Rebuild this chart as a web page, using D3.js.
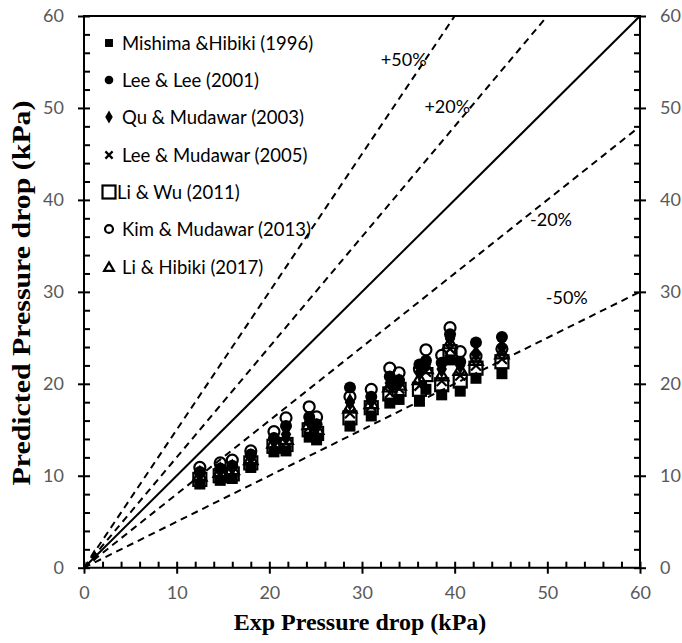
<!DOCTYPE html>
<html>
<head>
<meta charset="utf-8">
<script src="https://cdn.jsdelivr.net/npm/d3@7"></script>
<style>
  body { margin: 0; background: #fff; }
  svg { display: block; }
</style>
</head>
<body>
<svg id="chart" width="682" height="643"></svg>
<script>
// Experimental pressure drop (kPa) at each measured condition
const expDrop = [12.5, 14.7, 16.0, 18.0, 20.5, 21.8, 24.3, 25.1, 28.7, 31.0, 33.0, 34.0, 36.2, 36.9, 38.6, 39.5, 40.6, 42.3, 45.1];

// Predicted pressure drop (kPa) for each correlation
const mishimaHibiki = [9.1, 9.5, 9.7, 10.9, 12.6, 12.7, 14.2, 13.9, 15.4, 16.5, 17.9, 18.3, 18.1, 19.4, 18.8, 22.6, 19.2, 20.6, 21.1];
const leeLee        = [10.4, 10.8, 11.1, 12.3, 14.1, 15.4, 16.4, 15.6, 19.6, 18.6, 20.8, 20.4, 22.1, 22.5, 22.3, 25.4, 22.4, 24.5, 25.1];
const quMudawar     = [10.2, 10.6, 10.9, 12.0, 13.8, 14.5, 15.9, 15.3, 18.0, 18.2, 20.1, 20.2, 21.2, 22.1, 21.6, 24.9, 22.0, 23.3, 24.0];
const leeMudawar    = [9.8, 10.1, 10.4, 11.6, 13.4, 13.6, 15.3, 14.8, 16.8, 17.6, 19.0, 19.5, 19.8, 21.3, 20.3, 23.8, 20.9, 22.0, 22.7];
const liWu          = [9.6, 10.0, 10.2, 11.4, 13.2, 13.4, 15.0, 14.6, 16.3, 17.4, 18.9, 19.4, 19.4, 21.0, 19.9, 23.5, 20.3, 21.7, 22.4];
const kimMudawar    = [10.9, 11.4, 11.7, 12.7, 14.8, 16.3, 17.5, 16.4, 18.6, 19.4, 21.7, 21.2, 21.6, 23.7, 23.1, 26.1, 23.5, 23.0, 23.8];
const liHibiki      = [10.0, 10.4, 10.7, 11.8, 13.6, 14.0, 15.6, 15.1, 17.4, 17.9, 19.7, 19.9, 20.5, 21.7, 20.9, 24.4, 21.5, 22.6, 23.3];

// Low-pressure point near the origin
const quMudawarLow = [[1.1, 1.3]];

const seriesNames = ["Mishima &Hibiki (1996)", "Lee & Lee (2001)", "Qu & Mudawar (2003)", "Lee & Mudawar (2005)", "Li & Wu (2011)", "Kim & Mudawar (2013)", "Li & Hibiki (2017)"];
const seriesMarkers = ["filledSquare", "filledCircle", "filledDiamond", "cross", "openSquare", "openCircle", "openTriangle"];
const seriesValues = [mishimaHibiki, leeLee, quMudawar, leeMudawar, liWu, kimMudawar, liHibiki];

// Deviation bands: predicted = ratio * experimental
const bandRatios = [1.5, 1.2, 1.0, 0.8, 0.5];
const bandLabels = ["+50%", "+20%", "", "-20%", "-50%"];
const bandLabelPos = [[34.5, 55.3], [39.2, 50.2], null, [50.4, 37.9], [52.1, 29.4]];

const majorTicks = [0, 10, 20, 30, 40, 50, 60];
const minorTicks = [2, 4, 6, 8, 12, 14, 16, 18, 22, 24, 26, 28, 32, 34, 36, 38, 42, 44, 46, 48, 52, 54, 56, 58];

const sans = "Lato, 'Open Sans', sans-serif";
const serif = "'Liberation Serif', 'Times New Roman', serif";

const svg = d3.select("#chart");
const x = d3.scaleLinear().domain([0, 60]).range([84, 640]);
const y = d3.scaleLinear().domain([0, 60]).range([567.7, 16]);

// ---- reference lines ----
const gLines = svg.append("g");
bandRatios.forEach((r, i) => {
  const xe = Math.min(60, 60 / r), ye = Math.min(60, 60 * r);
  gLines.append("line")
    .attr("x1", x(0)).attr("y1", y(0))
    .attr("x2", x(xe)).attr("y2", y(ye))
    .attr("stroke", "#000").attr("stroke-width", 2)
    .attr("stroke-dasharray", r === 1 ? null : "7,5");
  if (bandLabels[i]) {
    gLines.append("text")
      .attr("x", x(bandLabelPos[i][0])).attr("y", y(bandLabelPos[i][1]))
      .attr("text-anchor", "middle").attr("dominant-baseline", "central")
      .attr("font-family", sans).attr("font-size", 18).attr("fill", "#000")
      .text(bandLabels[i]);
  }
});

// ---- axes ----
function styleAxis(g) {
  g.select(".domain").remove();
  g.selectAll("line").attr("stroke", "#000").attr("stroke-width", 2);
  g.selectAll("text").attr("font-family", sans).attr("font-size", 18).attr("fill", "#595959");
}
// bottom
const gx = svg.append("g").attr("transform", `translate(0,${y(0)})`)
  .call(d3.axisBottom(x).tickValues(majorTicks).tickSize(6).tickPadding(13).tickFormat(d3.format("d")));
styleAxis(gx);
gx.selectAll(".tick line").attr("y1", -6).attr("y2", 6);
svg.append("g").attr("transform", `translate(0,${y(0)})`)
  .call(d3.axisTop(x).tickValues(minorTicks).tickSize(6).tickFormat(""))
  .call(styleAxis);
// left
const gy = svg.append("g").attr("transform", `translate(${x(0)},0)`)
  .call(d3.axisLeft(y).tickValues(majorTicks).tickSize(6).tickPadding(14).tickFormat(d3.format("d")));
styleAxis(gy);
gy.selectAll(".tick line").attr("x1", -6).attr("x2", 6);
svg.append("g").attr("transform", `translate(${x(0)},0)`)
  .call(d3.axisRight(y).tickValues(minorTicks).tickSize(6).tickFormat(""))
  .call(styleAxis);
// right
const gr = svg.append("g").attr("transform", `translate(${x(60)},0)`)
  .call(d3.axisRight(y).tickValues(majorTicks).tickSize(6).tickPadding(14).tickFormat(d3.format("d")));
styleAxis(gr);
gr.selectAll(".tick line").attr("x1", -6).attr("x2", 6);
svg.append("g").attr("transform", `translate(${x(60)},0)`)
  .call(d3.axisLeft(y).tickValues(minorTicks).tickSize(6).tickFormat(""))
  .call(styleAxis);

// frame
svg.append("path")
  .attr("d", `M${x(0)},${y(0)} V${y(60)} H${x(60)} V${y(0)} Z`)
  .attr("fill", "none").attr("stroke", "#000").attr("stroke-width", 2);

// axis titles
svg.append("text")
  .attr("x", 360).attr("y", 630).attr("text-anchor", "middle")
  .attr("font-family", serif).attr("font-weight", "bold").attr("font-size", 24)
  .text("Exp Pressure drop (kPa)");
svg.append("text")
  .attr("transform", "translate(30,293) rotate(-90)").attr("text-anchor", "middle")
  .attr("font-family", serif).attr("font-weight", "bold").attr("font-size", 25)
  .attr("textLength", 385).attr("lengthAdjust", "spacingAndGlyphs")
  .text("Predicted Pressure drop (kPa)");

// ---- markers ----
function drawMarker(g, kind, cx, cy, scale) {
  const s = scale || 1;
  if (kind === "filledSquare") {
    g.append("rect").attr("x", cx - 5.5 * s).attr("y", cy - 5.5 * s).attr("width", 11 * s).attr("height", 11 * s).attr("fill", "#000");
  } else if (kind === "filledCircle") {
    g.append("circle").attr("cx", cx).attr("cy", cy).attr("r", 6 * s).attr("fill", "#000");
  } else if (kind === "filledDiamond") {
    g.append("path").attr("transform", `translate(${cx},${cy})`)
      .attr("d", d3.symbol(d3.symbolDiamond, 95 * s * s)()).attr("fill", "#000");
  } else if (kind === "cross") {
    const h = 5 * s;
    g.append("path")
      .attr("d", `M${cx - h},${cy - h}L${cx + h},${cy + h}M${cx - h},${cy + h}L${cx + h},${cy - h}`)
      .attr("stroke", "#000").attr("stroke-width", 2.2).attr("fill", "none");
  } else if (kind === "openSquare") {
    g.append("rect").attr("x", cx - 6.5 * s).attr("y", cy - 6.5 * s).attr("width", 13 * s).attr("height", 13 * s)
      .attr("fill", "none").attr("stroke", "#000").attr("stroke-width", 2.2);
  } else if (kind === "openCircle") {
    g.append("circle").attr("cx", cx).attr("cy", cy).attr("r", 5.5 * s)
      .attr("fill", "none").attr("stroke", "#000").attr("stroke-width", 2.2);
  } else if (kind === "openTriangle") {
    g.append("path").attr("transform", `translate(${cx},${cy + 1})`)
      .attr("d", d3.symbol(d3.symbolTriangle, 80 * s * s)())
      .attr("fill", "none").attr("stroke", "#000").attr("stroke-width", 2.2);
  }
}

// series drawn in legend order, later ones on top
const gPts = svg.append("g");
seriesValues.forEach((vals, si) => {
  vals.forEach((v, i) => {
    drawMarker(gPts, seriesMarkers[si], x(expDrop[i]), y(v));
  });
});
quMudawarLow.forEach(([ex, pr]) => drawMarker(gPts, "filledDiamond", x(ex), y(pr), 0.7));

// ---- legend ----
const legendY = [43, 80, 117, 155, 192, 229, 267];
const gLeg = svg.append("g");
seriesNames.forEach((name, i) => {
  const mk = seriesMarkers[i];
  const small = mk === "openSquare" ? 1.0 : 0.72;
  drawMarker(gLeg, mk, 109, legendY[i], small);
  gLeg.append("text")
    .attr("x", mk === "openSquare" ? 117 : 122).attr("y", legendY[i])
    .attr("dominant-baseline", "central")
    .attr("font-family", sans).attr("font-size", 18.5).attr("fill", "#000")
    .text(name);
});
</script>
</body>
</html>
